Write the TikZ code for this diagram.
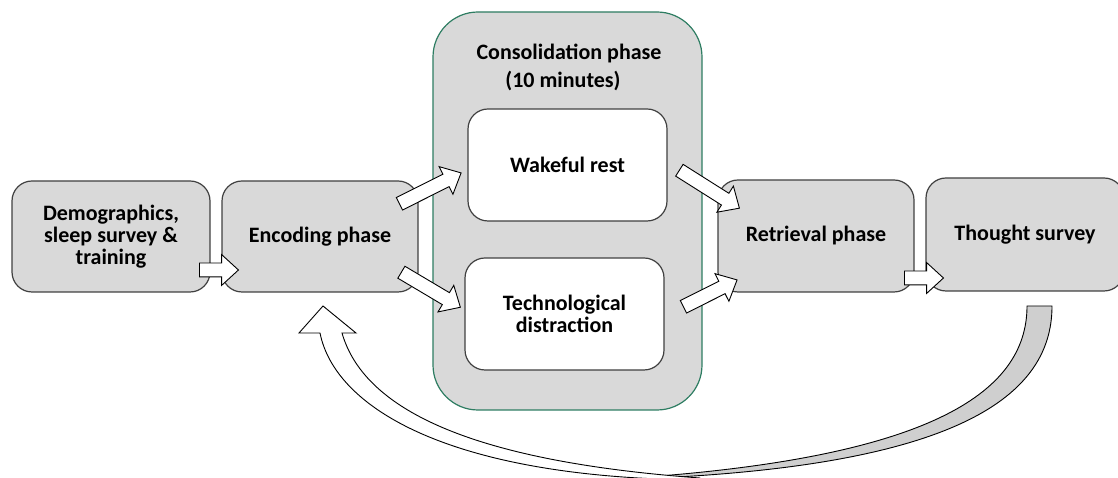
\documentclass[tikz,border=0pt]{standalone}
\usepackage{fontspec}
\setmainfont{Carlito}
\usetikzlibrary{shapes.arrows,calc}
\definecolor{boxgray}{HTML}{D9D9D9}
\definecolor{bandgray}{HTML}{CFCFCF}
\definecolor{edgegray}{HTML}{404040}
\definecolor{consgreen}{HTML}{2E7D62}
\tikzset{
  phasebox/.style={draw=edgegray, line width=1.2pt, fill=boxgray, rounded corners=20pt,
    align=center, font=\fontsize{22}{22}\selectfont\bfseries, inner sep=0pt},
  innerbox/.style={phasebox, fill=white},
  blockarrow/.style={shape=single arrow, draw=black, line width=0.9pt, fill=white,
    single arrow head extend=8.5pt, single arrow tip angle=85,
    inner sep=0pt, anchor=tail},
  bandline/.style={draw=black, line width=0.9pt},
}
\newcommand\shaftstrut{\rule{0pt}{13pt}}
\begin{document}
\begin{tikzpicture}[x=1pt,y=1pt]
\useasboundingbox (0,0) rectangle (1118,478);
\clip (0,0) rectangle (1118,478);
% container
\node[draw=consgreen, line width=1.2pt, fill=boxgray, rounded corners=45pt,
  minimum width=269pt, minimum height=398pt, inner sep=0pt] (cons) at (567.5,267) {};
\node[align=center, font=\fontsize{22}{22}\selectfont\bfseries] (constitle) at (569,411)
  {Consolidation phase\\[6pt]\hspace*{-12pt}(10 minutes)};
% boxes
\node[phasebox, minimum width=198pt, minimum height=111pt] (demo) at (111,241.5)
  {Demographics,\\sleep survey \&\\training};
\node[phasebox, minimum width=196pt, minimum height=111pt] (enc) at (320,241.5) {Encoding phase};
\node[innerbox, minimum width=199pt, minimum height=112pt] (wake) at (567.5,313) {Wakeful rest};
\node[innerbox, minimum width=199pt, minimum height=112pt] (tech) at (564.5,164)
  {Technological\\distraction};
\node[phasebox, minimum width=196pt, minimum height=112pt] (retr) at (816,242) {Retrieval phase};
\node[phasebox, minimum width=198pt, minimum height=113pt] (thought) at (1025,243.5) {Thought survey};
% block arrows
\coordinate (t1) at (199,208);
\coordinate (t2) at (399,274);
\coordinate (t3) at (401,206);
\coordinate (t4) at (679,308);
\coordinate (t5) at (683,171);
\coordinate (t6) at (904,200);
\node[blockarrow, minimum height=39pt, rotate=0] (a1) at (t1) {\shaftstrut};
\node[blockarrow, minimum height=69pt, rotate=26.6] (a2) at (t2) {\shaftstrut};
\node[blockarrow, minimum height=68.6pt, rotate=-30.7] (a3) at (t3) {\shaftstrut};
\node[blockarrow, minimum height=71pt, rotate=-32.3] (a4) at (t4) {\shaftstrut};
\node[blockarrow, minimum height=60pt, rotate=26.6] (a5) at (t5) {\shaftstrut};
\node[blockarrow, minimum height=39pt, rotate=0] (a6) at (t6) {\shaftstrut};
% curved return arrow
\coordinate (gtl) at (1027,172);
\coordinate (gtr) at (1052,172);
\coordinate (gend) at (600,-2);
\filldraw[bandline, fill=bandgray] (gtr) .. controls (1052,78) and (950,6) .. (gend)
  .. controls (930,16) and (1027,85) .. (gtl) -- cycle;
\coordinate (tip) at (323,172);
\coordinate (hl) at (299,145);
\coordinate (hr) at (356,145);
\coordinate (so) at (320,145);
\coordinate (si) at (342,145);
\filldraw[bandline, fill=white] (tip) -- (hr) -- (si)
  .. controls (365,65) and (480,16) .. (700,0)
  -- (700,-2)
  .. controls (450,0) and (335,70) .. (so) -- (hl) -- cycle;
\end{tikzpicture}
\end{document}
